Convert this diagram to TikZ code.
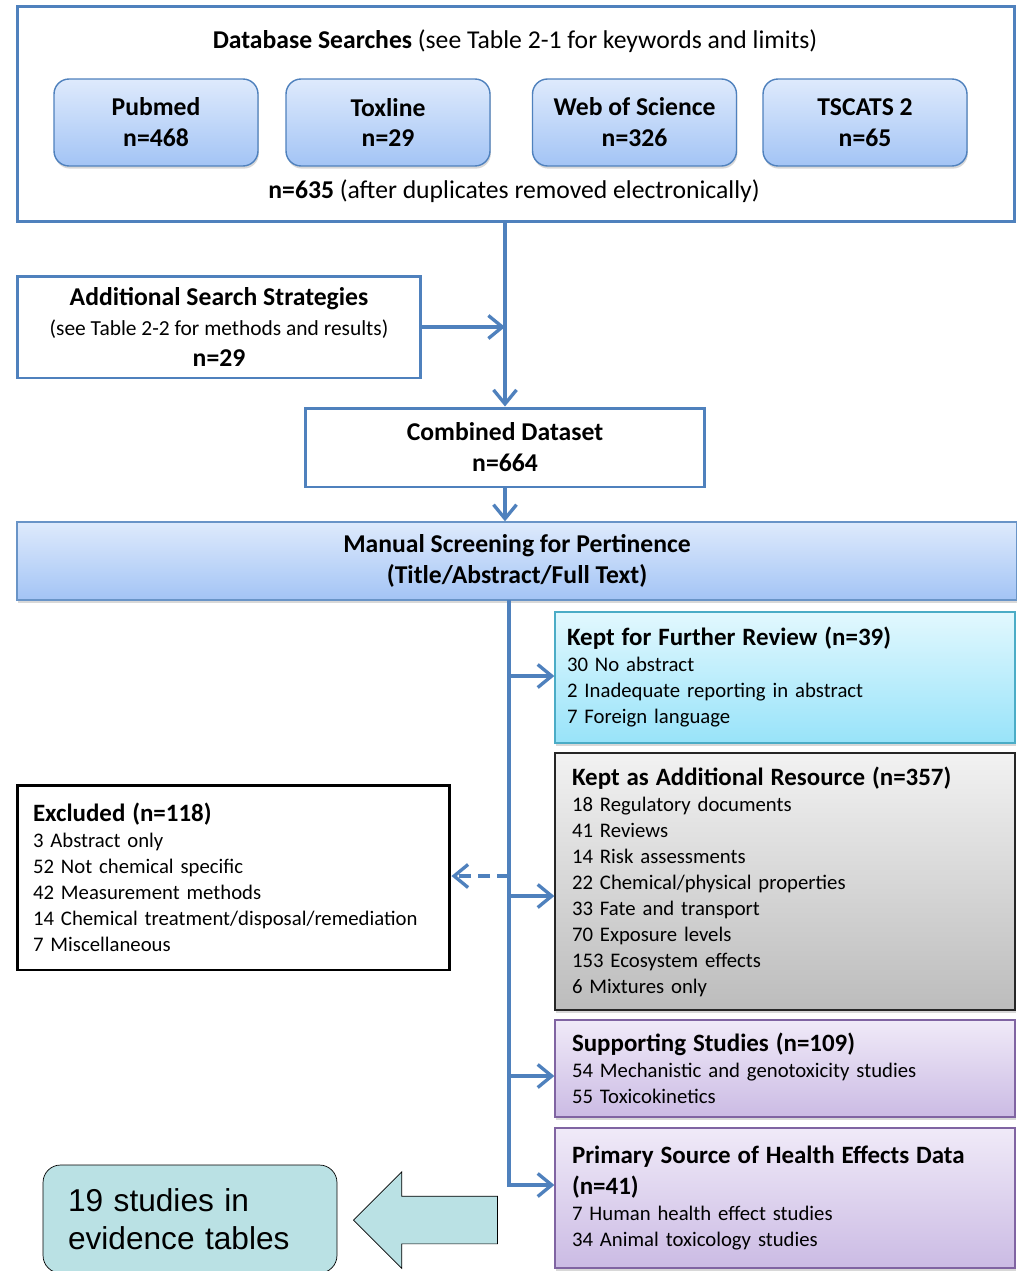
\documentclass[tikz,border=0pt]{standalone}
\usepackage{fontspec}
\setmainfont{Carlito}
\newfontfamily\arialfont{Liberation Sans}
\usetikzlibrary{arrows.meta,shadows,shapes.arrows}

\definecolor{lineblue}{RGB}{79,129,189}
\definecolor{dbtop}{RGB}{222,234,252}
\definecolor{dbbot}{RGB}{163,196,245}
\definecolor{kfrtop}{RGB}{226,248,254}
\definecolor{kfrbot}{RGB}{152,227,249}
\definecolor{kfrline}{RGB}{75,172,198}
\definecolor{grtop}{RGB}{242,242,242}
\definecolor{grbot}{RGB}{188,188,188}
\definecolor{pptop}{RGB}{240,234,248}
\definecolor{ppbot}{RGB}{203,187,228}
\definecolor{ppline}{RGB}{128,100,162}
\definecolor{evfill}{RGB}{186,225,228}

\newcommand{\headtext}[1]{{\fontsize{14.2}{16}\selectfont\bfseries #1}}

\begin{document}
\begin{tikzpicture}[x=0.02cm,y=-0.02cm,
    flow/.style={draw=lineblue,line width=1.9pt,-{Straight Barb[length=0.28cm,width=0.46cm]}},
    softshadow/.style={drop shadow={opacity=0.3,shadow xshift=0.5pt,shadow yshift=-1.5pt}}]
\clip (0,0) rectangle (1017,1271);
\fill[white] (0,0) rectangle (1017,1271);

\begin{scope}[every node/.style={font=\fontsize{14.6}{17.6}\selectfont}]
    \node[draw=lineblue,line width=1.7pt,minimum width=19.96cm,minimum height=4.32cm] (db) at (516,114) {};
    \node (dbtitle) at (515,41) {\textbf{Database Searches} (see Table 2-1 for keywords and limits)};
    \node (dbtotal) at (514,191) {\textbf{n=635} (after duplicates removed electronically)};
\end{scope}

\begin{scope}[every node/.style={draw=lineblue,thick,rounded corners=0.3cm,top color=dbtop,bottom color=dbbot,
              minimum width=4.08cm,minimum height=1.74cm,align=center,
              font=\fontsize{14.6}{17.6}\selectfont\bfseries,softshadow}]
    \node (pubmed) at (156,122.5) {Pubmed\\n=468};
    \node (toxline) at (388,122.5) {Toxline\\n=29};
    \node (wos) at (634.5,122.5) {Web of Science\\n=326};
    \node (tscats) at (865,122.5) {TSCATS 2\\n=65};
\end{scope}

\begin{scope}[every node/.style={draw=lineblue,line width=1.7pt,align=center,font=\fontsize{14.6}{16.2}\selectfont}]
    \node[minimum width=8.08cm,minimum height=2.04cm] (add) at (219,327)
        {\textbf{Additional Search Strategies}\\[1pt]{\fontsize{12.2}{16.2}\selectfont(see Table 2-2 for methods and results)}\\[1.5pt]\textbf{n=29}};
    \node[minimum width=8cm,minimum height=1.58cm,font=\fontsize{14.6}{17.6}\selectfont] (comb) at (505,447.5)
        {\textbf{Combined Dataset}\\\textbf{n=664}};
\end{scope}

\node[draw=lineblue!85,thick,top color=dbtop,bottom color=dbbot,minimum width=20cm,minimum height=1.56cm,
      align=center,font=\fontsize{14.6}{17.6}\selectfont\bfseries,softshadow] (manual) at (517,561)
    {Manual Screening for Pertinence\\(Title/Abstract/Full Text)};

\begin{scope}[every node/.style={thick,minimum width=9.2cm,align=left,text width=8.72cm,inner xsep=0.24cm,
              font=\fontsize{11.8}{14.8}\selectfont,softshadow}]
    \node[draw=kfrline,top color=kfrtop,bottom color=kfrbot,minimum height=2.62cm] (kfr) at (785,677.5)
        {\headtext{Kept for Further Review (n=39)}\\30 No abstract\\2 Inadequate reporting in abstract\\7 Foreign language};
    \node[draw=black!85,top color=grtop,bottom color=grbot,minimum height=5.14cm,text width=8.52cm,inner xsep=0.34cm] (kar) at (785,881.5)
        {\headtext{Kept as Additional Resource (n=357)}\\18 Regulatory documents\\41 Reviews\\14 Risk assessments\\22 Chemical/physical properties\\33 Fate and transport\\70 Exposure levels\\153 Ecosystem effects\\6 Mixtures only};
    \node[draw=ppline,top color=pptop,bottom color=ppbot,minimum height=1.94cm,text width=8.52cm,inner xsep=0.34cm] (supp) at (785,1068.5)
        {\headtext{Supporting Studies (n=109)}\\54 Mechanistic and genotoxicity studies\\55 Toxicokinetics};
    \node[draw=ppline,top color=pptop,bottom color=ppbot,minimum height=2.8cm,text width=8.52cm,inner xsep=0.34cm] (prim) at (785,1198)
        {\headtext{Primary Source of Health Effects Data}\\[2.5pt]\headtext{(n=41)}\\7 Human health effect studies\\34 Animal toxicology studies};
\end{scope}

\node[draw=black,line width=1.7pt,fill=white,minimum width=8.66cm,minimum height=3.7cm,text width=8.02cm,inner xsep=0.32cm,
      align=left,font=\fontsize{11.8}{14.8}\selectfont] (excl) at (233.5,877.5)
    {\headtext{Excluded (n=118)}\\3 Abstract only\\52 Not chemical specific\\42 Measurement methods\\14 Chemical treatment/disposal/remediation\\7 Miscellaneous};

\node[single arrow,shape border rotate=180,draw=black,fill=evfill,inner sep=0.47cm,minimum height=2.88cm,
      minimum width=1.92cm,single arrow head extend=0.49cm,anchor=tip] (bigarrow) at (353,1220) {};
\node[draw=black,fill=evfill,rounded corners=0.35cm,minimum width=5.88cm,minimum height=2.16cm,text width=4.88cm,
      inner xsep=0.5cm,align=left,font=\arialfont\fontsize{18}{21.6}\selectfont] (evid) at (190,1219)
    {19 studies in\\evidence tables};

\draw[flow] (db.south -| comb.north) -- (comb.north);
\draw[flow] (add.east) -- (add.east -| comb.north);
\draw[flow] (comb.south) -- (comb.south |- manual.north);

\coordinate (tr0) at (509,600);
\coordinate (tr1) at (509,676);
\coordinate (trx) at (509,876);
\coordinate (tr2) at (509,896);
\coordinate (tr3) at (509,1076);
\coordinate (tr4) at (509,1185);
\draw[flow] (tr0) -- (tr4) -- (tr4 -| prim.west);
\draw[flow] (tr1) -- (tr1 -| kfr.west);
\draw[flow] (tr2) -- (tr2 -| kar.west);
\draw[flow] (tr3) -- (tr3 -| supp.west);
\draw[flow,dash pattern=on 0.24cm off 0.14cm] (trx) -- (trx -| excl.east);
\end{tikzpicture}
\end{document}
